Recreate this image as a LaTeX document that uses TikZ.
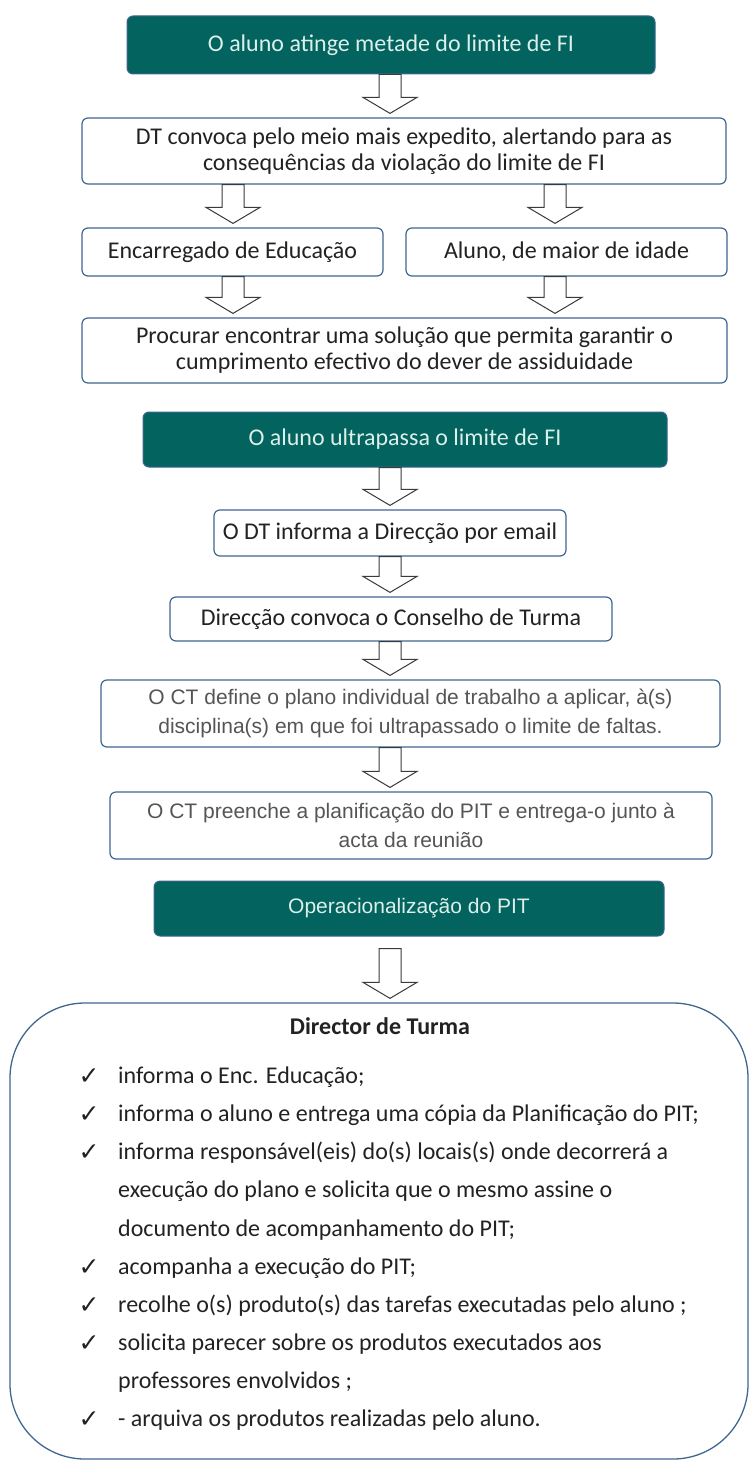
\documentclass[tikz,border=0pt]{standalone}
\usepackage{fontspec}
\setmainfont{Carlito}
\newfontfamily\arialfont{Liberation Sans}
\newfontfamily\checkfont{DejaVu Sans}
\usetikzlibrary{calc}
\definecolor{tealbox}{HTML}{02635F}
\definecolor{tealtext}{HTML}{DCEFEA}
\definecolor{edge}{HTML}{3F6690}
\definecolor{ink}{HTML}{222222}
\definecolor{greyink}{HTML}{555555}
\definecolor{arrowline}{HTML}{3A3A3A}
% hollow block arrow: [gap at top]{x}{from}{to}
\newcommand{\blkarrow}[4][0pt]{%
 \draw[hollow] let \p1=(#3.south), \p2=(#4.north) in
  (#2pt-11pt,\y1-#1) -- (#2pt-11pt,\y2+20pt) -- (#2pt-27pt,\y2+20pt)
  -- (#2pt,\y2+4pt) -- (#2pt+27pt,\y2+20pt) -- (#2pt+11pt,\y2+20pt)
  -- (#2pt+11pt,\y1-#1) -- cycle;}

\begin{document}
\begin{tikzpicture}[x=1pt,y=-1pt,
 every node/.style={font=\fontsize{24}{26}\selectfont,text=ink},
 teal/.style={rounded corners=6,fill=tealbox,draw=edge,line width=1,text=tealtext},
 flow/.style={rounded corners=6,draw=edge,line width=1.2,fill=white,align=center},
 flowgrey/.style={flow,text=greyink,font=\arialfont\fontsize{21}{29}\selectfont},
 hollow/.style={draw=arrowline,fill=white,line width=1}]
\useasboundingbox (0,0) rectangle (749,1461);
\node[teal,minimum width=528,minimum height=58] (half) at (391,45) {O aluno atinge metade do limite de FI};
\node[flow,minimum width=644,minimum height=66] (warn) at (404,151) {DT convoca pelo meio mais expedito, alertando para as\\consequências da violação do limite de FI};
\node[flow,minimum width=301,minimum height=48] (parent) at (232.5,252) {Encarregado de Educação};
\node[flow,minimum width=321,minimum height=48] (adult) at (566.5,252) {Aluno, de maior de idade};
\node[flow,minimum width=645,minimum height=65] (solve) at (404.5,350.5) {Procurar encontrar uma solução que permita garantir o\\cumprimento efectivo do dever de assiduidade};
\node[teal,minimum width=524,minimum height=55] (over) at (405,439.5) {O aluno ultrapassa o limite de FI};
\node[flow,minimum width=352,minimum height=46] (email) at (390,533) {O DT informa a Direcção por email};
\node[flow,minimum width=442,minimum height=44] (council) at (391,619) {Direcção convoca o Conselho de Turma};
\node[flowgrey,minimum width=619,minimum height=67] (plan) at (410.5,713.5) {O CT define o plano individual de trabalho a aplicar, à(s)\\disciplina(s) em que foi ultrapassado o limite de faltas.};
\node[flowgrey,minimum width=602,minimum height=67] (fill) at (411,825.5) {O CT preenche a planificação do PIT e entrega-o junto à\\acta da reunião};
\node[teal,minimum width=510,minimum height=55,font=\arialfont\fontsize{21}{24}\selectfont] (pit) at (409,908.5) {Operacionalização do PIT};
\node[draw=edge,line width=1.3,rounded corners=75,minimum width=738,minimum height=456] (dt) at (379,1231) {};
\node[font=\bfseries\fontsize{24}{26}\selectfont] (dttitle) at (380,1026) {Director de Turma};

\blkarrow{390}{half}{warn}
\blkarrow{233}{warn}{parent}
\blkarrow{555}{warn}{adult}
\blkarrow{233}{parent}{solve}
\blkarrow{555}{adult}{solve}
\blkarrow{390}{over}{email}
\blkarrow{390}{email}{council}
\blkarrow{390}{council}{plan}
\blkarrow{390}{plan}{fill}
\blkarrow[12pt]{390}{pit}{dt}

\foreach \y in {1077,1115,1153,1268,1306,1344,1420}
  \node[font=\checkfont\fontsize{25}{26}\selectfont] (chk\y) at (89,\y) {✓};
\foreach \y/\txt in {1077/{informa o Enc. Educação;},
 1115/{informa o aluno e entrega uma cópia da Planificação do PIT;},
 1153/{informa responsável(eis) do(s) locais(s) onde decorrerá a},
 1191/{execução do plano e solicita que o mesmo assine o},
 1230/{documento de acompanhamento do PIT;},
 1268/{acompanha a execução do PIT;},
 1306/{recolhe o(s) produto(s) das tarefas executadas pelo aluno ;},
 1344/{solicita parecer sobre os produtos executados aos},
 1382/{professores envolvidos ;},
 1420/{- arquiva os produtos realizadas pelo aluno.}}
  \node[anchor=west,inner sep=0] (item\y) at (118,\y) {\txt};
\end{tikzpicture}
\end{document}
